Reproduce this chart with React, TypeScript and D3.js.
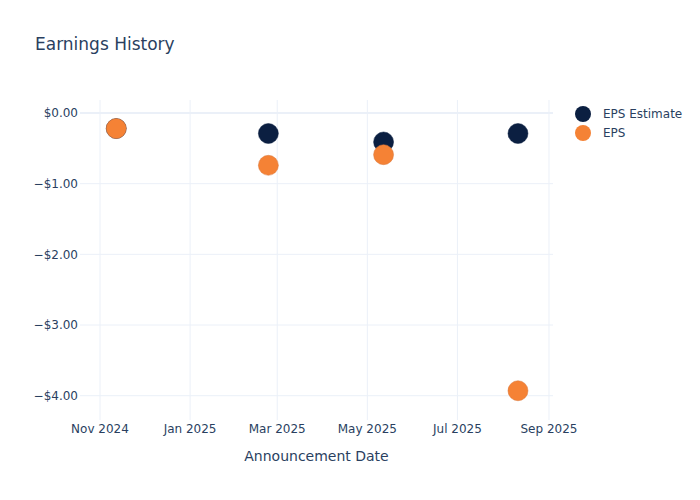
import React from "react";
import * as d3 from "d3";

const dates = ["2024-11-12", "2025-02-23", "2025-05-12", "2025-08-11"];
const epsEstimate = [-0.22, -0.29, -0.41, -0.29];
const eps = [-0.22, -0.74, -0.59, -3.93];
const yTicks = [0, -1, -2, -3, -4];
const xTicks = ["2024-11-01", "2025-01-01", "2025-03-01", "2025-05-01", "2025-07-01", "2025-09-01"];
const seriesNames = ["EPS Estimate", "EPS"];
const colors = ["#0b1f41", "#f58235"];

const W = 700, H = 500;
const L = 80, R = 553, T = 100, B = 420;
const font = "'DejaVu Sans', Verdana, sans-serif";
const textColor = "#2a3f5f";
const grid = "#ebf0f8";

const parse = (s: string) => new Date(s + "T00:00:00Z");

export default function App() {
  const x = d3.scaleUtc()
    .domain([new Date(Date.UTC(2024, 9, 18, 11)), new Date(Date.UTC(2025, 8, 3, 17))])
    .range([L, R]);
  const y = d3.scaleLinear().domain([0.184, -4.344]).range([T, B]);
  const fmtY = (v: number) => (v < 0 ? "\u2212$" : "$") + Math.abs(v).toFixed(2);
  const fmtX = d3.utcFormat("%b %Y");
  const series = [epsEstimate, eps];

  return (
    <svg width={W} height={H} style={{ position: "absolute", left: 0, top: 0, background: "#fff" }} fontFamily={font}>
      <rect x={0} y={0} width={W} height={H} fill="#fff" />
      {xTicks.map((t) => (
        <line key={t} x1={x(parse(t))} x2={x(parse(t))} y1={T} y2={B} stroke={grid} strokeWidth={1} />
      ))}
      {yTicks.map((t) => (
        <line key={t} x1={L} x2={R} y1={y(t)} y2={y(t)} stroke={grid} strokeWidth={t === 0 ? 2 : 1} />
      ))}
      {yTicks.map((t) => (
        <text key={t} x={L - 2} y={y(t)} dy="0.35em" textAnchor="end" fontSize={12} fill={textColor}>
          {fmtY(t)}
        </text>
      ))}
      {xTicks.map((t) => (
        <text key={t} x={x(parse(t))} y={B + 13} textAnchor="middle" fontSize={12} fill={textColor}>
          {fmtX(parse(t))}
        </text>
      ))}
      {series.map((vals, si) =>
        vals.map((v, i) => (
          <circle key={si + "-" + i} cx={x(parse(dates[i]))} cy={y(v)} r={10} fill={colors[si]}
            stroke={si === 1 ? "#d9763a" : colors[si]} strokeWidth={0.5} />
        ))
      )}
      <text x={35} y={50} fontSize={17} fill={textColor}>Earnings History</text>
      <text x={(L + R) / 2} y={461} textAnchor="middle" fontSize={14} fill={textColor}>Announcement Date</text>
      {seriesNames.map((n, i) => (
        <g key={n} transform={`translate(583, ${114 + i * 19})`}>
          <circle cx={0} cy={0} r={8} fill={colors[i]} />
          <text x={20} y={0} dy="0.35em" fontSize={12} fill={textColor}>{n}</text>
        </g>
      ))}
    </svg>
  );
}
